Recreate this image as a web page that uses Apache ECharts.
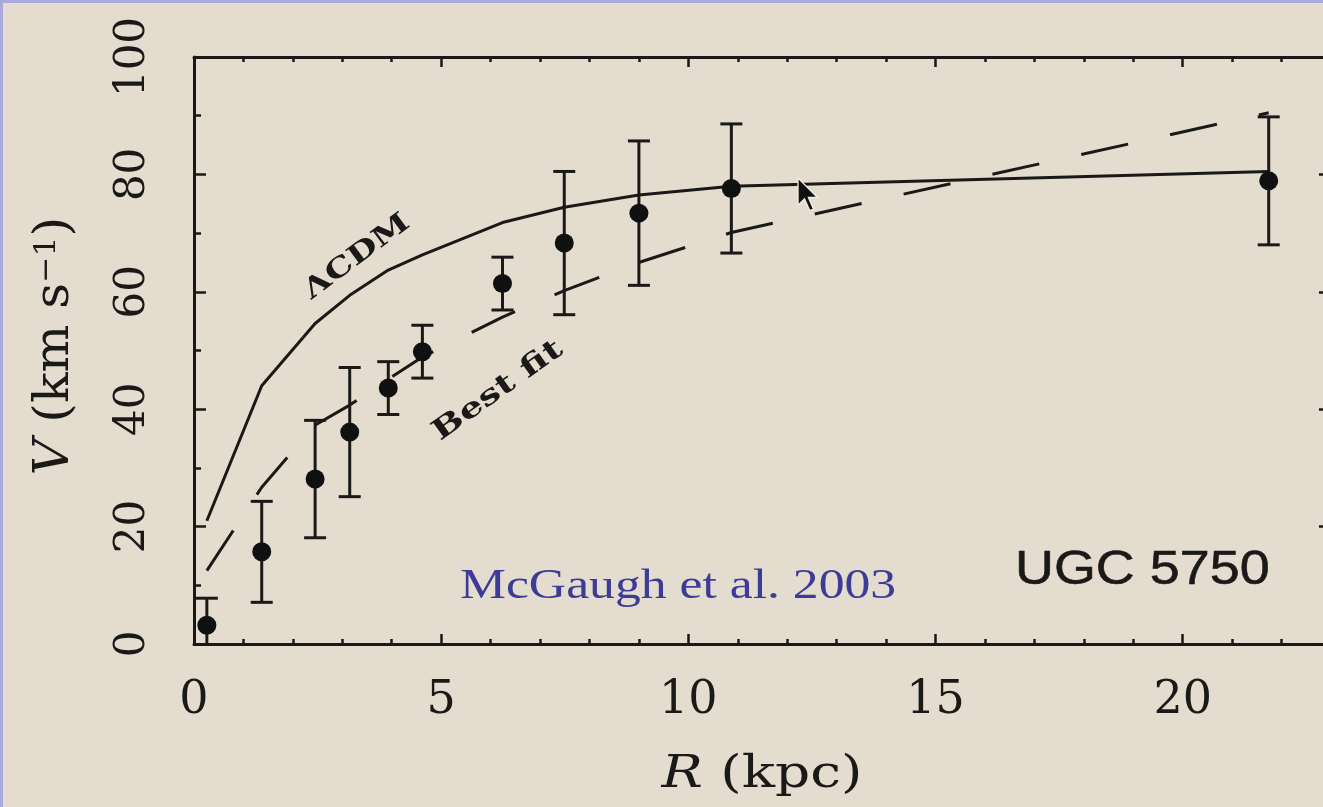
<!DOCTYPE html>
<html><head><meta charset="utf-8">
<script src="https://cdn.jsdelivr.net/npm/echarts@6/dist/echarts.min.js"></script>
<style>html,body{margin:0;padding:0;background:#e3dccf;} #c{width:1323px;height:807px;}</style>
</head><body><div id="c"></div>
<script>
// ---- data (UGC 5750 rotation curve) ----
const radii        = [0.26, 1.37, 2.45, 3.15, 3.93, 4.62, 6.24, 7.49, 9.00, 10.87, 21.74];
const velocity     = [3.2, 15.7, 28.1, 36.1, 43.6, 49.8, 61.4, 68.3, 73.4, 77.6, 78.9];
const velocityErr  = [4.6, 8.6, 10.0, 11.0, 4.5, 4.5, 4.5, 12.2, 12.3, 11.0, 10.9];
const lcdmModel    = [21.0, 44.0, 54.6, 59.4, 63.7, 66.3, 71.8, 74.4, 76.5, 78.0, 80.5];
const bestFitModel = [12.5, 26.7, 37.3, 40.7, 45.1, 48.9, 55.7, 60.2, 65.0, 70.1, 90.5];
const xTickLabels  = [0, 5, 10, 15, 20];
const yTickLabels  = [0, 20, 40, 60, 80, 100];

const INK = '#1b1917';
const chart = echarts.init(document.getElementById('c'), null, {renderer: 'canvas'});

const pairs = (ys) => radii.map((r, i) => [r, ys[i]]);
const obs = radii.map((r, i) => [r, velocity[i], velocityErr[i]]);

const serif = '"DejaVu Serif", serif';

function xAxisDef(pos, major, withLine, withLabel) {
  return {
    type: 'value', position: pos, min: 0, max: 23, interval: major ? 5 : 1,
    axisLine: {show: withLine, onZero: false, lineStyle: {color: INK, width: 3}},
    axisTick: {show: true, inside: true, length: major ? 10 : 5, lineStyle: {color: INK, width: 2.5}},
    splitLine: {show: false},
    axisLabel: withLabel ? {
      show: true, margin: 34, color: INK, fontFamily: serif, fontSize: 46,
      formatter: (v) => xTickLabels.indexOf(v) >= 0 ? String(v) : ''
    } : {show: false}
  };
}
function yAxisDef(pos, withLabel) {
  return {
    type: 'value', position: pos, min: 0, max: 100, interval: 20,
    axisLine: {show: true, onZero: false, lineStyle: {color: INK, width: 3}},
    axisTick: {show: true, inside: true, length: 12, lineStyle: {color: INK, width: 2.5}},
    minorTick: {show: true, splitNumber: 2, length: 7, lineStyle: {color: INK, width: 2.5}},
    splitLine: {show: false},
    axisLabel: withLabel ? {
      show: true, rotate: 90, margin: 40, color: INK, fontFamily: serif, fontSize: 42,
      formatter: (v) => yTickLabels.indexOf(v) >= 0 ? String(v) : ''
    } : {show: false}
  };
}

const option = {
  backgroundColor: '#e3dccf',
  animation: false,
  grid: {left: 194, top: 57, width: 1137, height: 587, outerBoundsMode: 'none', containLabel: false},
  xAxis: [
    xAxisDef('bottom', true, true, true),
    xAxisDef('bottom', false, false, false),
    xAxisDef('top', true, true, false),
    xAxisDef('top', false, false, false)
  ],
  yAxis: [yAxisDef('left', true), yAxisDef('right', false)],
  series: [
    {
      name: 'ΛCDM', type: 'line', data: pairs(lcdmModel), symbol: 'none', smooth: false,
      lineStyle: {color: INK, width: 3}, z: 3
    },
    {
      name: 'Best fit', type: 'line', data: pairs(bestFitModel), symbol: 'none', smooth: false,
      lineStyle: {color: INK, width: 3, type: [48, 43], dashOffset: 0}, z: 3
    },
    {
      name: 'error', type: 'custom', data: obs, clip: true, z: 4,
      renderItem: function (params, api) {
        const x = api.value(0), v = api.value(1), e = api.value(2);
        const top = api.coord([x, v + e]);
        const bot = api.coord([x, v - e]);
        const hw = 11;
        const style = {stroke: INK, lineWidth: 3};
        return {type: 'group', children: [
          {type: 'line', shape: {x1: top[0], y1: top[1], x2: bot[0], y2: bot[1]}, style: style},
          {type: 'line', shape: {x1: top[0] - hw, y1: top[1], x2: top[0] + hw, y2: top[1]}, style: style},
          {type: 'line', shape: {x1: bot[0] - hw, y1: bot[1], x2: bot[0] + hw, y2: bot[1]}, style: style}
        ]};
      }
    },
    {
      name: 'UGC 5750', type: 'scatter', data: obs.map(d => [d[0], d[1]]), symbol: 'circle', symbolSize: 19,
      itemStyle: {color: '#111010', opacity: 1}, z: 5
    }
  ],
  graphic: [
    {type: 'rect', left: 0, top: 0, shape: {width: 1323, height: 3}, style: {fill: '#a9a9de'}, z: 100},
    {type: 'rect', left: 0, top: 0, shape: {width: 3, height: 807}, style: {fill: '#a9a9de'}, z: 100},
    {type: 'text', x: 357, y: 257, rotation: 36.5 * Math.PI / 180, scaleX: 1.3, z: 50,
      style: {text: 'ΛCDM', fontFamily: serif, fontWeight: 'bold', fontSize: 27, fill: INK,
        align: 'center', verticalAlign: 'middle', textAlign: 'center', textVerticalAlign: 'middle'}},
    {type: 'text', x: 498, y: 391, rotation: 35.5 * Math.PI / 180, scaleX: 1.35, z: 50,
      style: {text: 'Best fit', fontFamily: serif, fontWeight: 'bold', fontSize: 28, fill: INK,
        align: 'center', verticalAlign: 'middle', textAlign: 'center', textVerticalAlign: 'middle'}},
    {type: 'text', x: 460, y: 587, scaleX: 1.23, z: 50,
      style: {text: 'McGaugh et al. 2003', fontFamily: '"Liberation Serif", "Times New Roman", serif', fontSize: 42, fill: '#3c3c96',
        align: 'left', verticalAlign: 'middle', textAlign: 'left', textVerticalAlign: 'middle'}},
    {type: 'text', x: 1015, y: 570, scaleX: 1.1, z: 50,
      style: {text: 'UGC 5750', fontFamily: '"Liberation Sans", Arial, sans-serif', fontSize: 49, fill: INK,
        stroke: INK, lineWidth: 0.6,
        align: 'left', verticalAlign: 'middle', textAlign: 'left', textVerticalAlign: 'middle'}},
    {type: 'text', x: 762, y: 776, scaleX: 1.25, z: 50,
      style: {text: '{i|R} (kpc)', fontFamily: serif, fontSize: 44, fill: INK,
        align: 'center', verticalAlign: 'middle', textAlign: 'center', textVerticalAlign: 'middle',
        rich: {i: {fontFamily: serif, fontStyle: 'italic', fontSize: 44, fill: INK}}}},
    {type: 'text', x: 56, y: 346, rotation: Math.PI / 2, scaleX: 1.05, z: 50,
      style: {text: '{i|V} (km s{s|−1})', fontFamily: serif, fontSize: 48, fill: INK,
        align: 'center', verticalAlign: 'middle', textAlign: 'center', textVerticalAlign: 'middle',
        rich: {
          i: {fontFamily: serif, fontStyle: 'italic', fontSize: 48, fill: INK},
          s: {fontFamily: serif, fontSize: 30, fill: INK, verticalAlign: 'top'}
        }}},
    {type: 'polygon', x: 798, y: 178, scaleX: 1.3, scaleY: 1.3, z: 60,
      shape: {points: [[0, 0], [0, 21], [5, 16], [9, 25], [12, 24], [8, 15], [15, 15]]},
      style: {fill: '#111', stroke: '#f4f0e8', lineWidth: 1}}
  ]
};
chart.setOption(option);
</script>
</body></html>
